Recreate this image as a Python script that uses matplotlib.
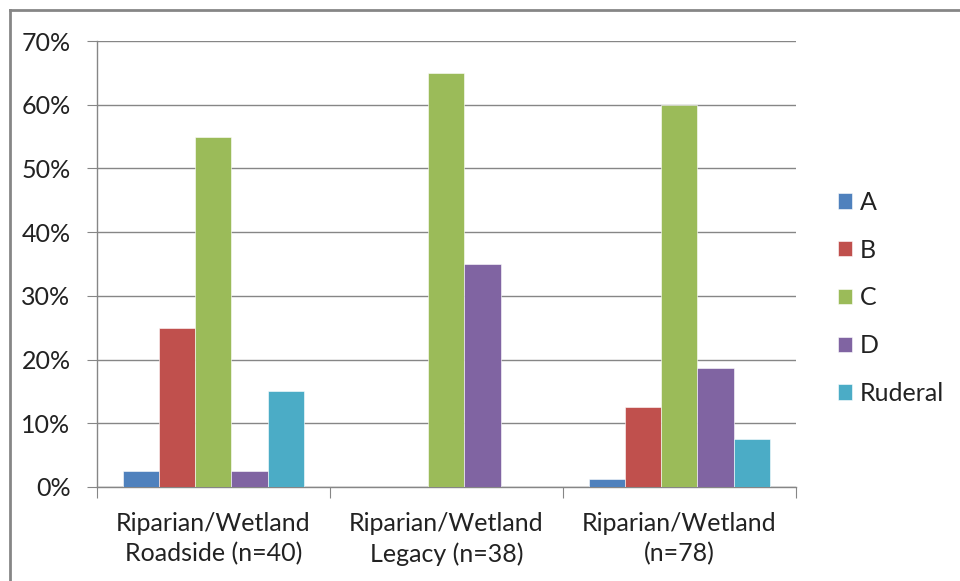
import numpy as np
import matplotlib.pyplot as plt
from matplotlib.lines import Line2D
from matplotlib.ticker import FuncFormatter

plt.rcParams['font.family'] = ['Lato', 'DejaVu Sans']

# data
groups = ['Riparian/Wetland\nRoadside (n=40)',
          'Riparian/Wetland\nLegacy (n=38)',
          'Riparian/Wetland\n(n=78)']
series = ['A', 'B', 'C', 'D', 'Ruderal']
values = {
    'A':       [2.5, 0.0, 1.25],
    'B':       [25.0, 0.0, 12.5],
    'C':       [55.0, 65.0, 60.0],
    'D':       [2.5, 35.0, 18.75],
    'Ruderal': [15.0, 0.0, 7.5],
}
colors = ['#4F81BD', '#C0504D', '#9BBB59', '#8064A2', '#4BACC6']

fig = plt.figure(figsize=(9.6, 5.81), dpi=100)
ax = fig.add_axes([0.101, 0.1618, 0.728, 0.7676])

x = np.arange(len(groups))
w = 0.155
for i, s in enumerate(series):
    ax.bar(x + (i - 2) * w, values[s], w, color=colors[i], label=s,
           edgecolor='white', linewidth=0.4, zorder=3)

ax.set_xlim(-0.5, 2.5)
ax.set_ylim(0, 70)
ax.set_yticks(np.arange(0, 71, 10))
ax.yaxis.set_major_formatter(FuncFormatter(lambda v, p: f'{v:.0f}%'))
ax.grid(axis='y', color='#868686', linewidth=1.0, zorder=0)

# x ticks at group boundaries, labels at centres
ax.set_xticks([-0.5, 0.5, 1.5, 2.5])
ax.set_xticklabels([])
ax.set_xticks(x, minor=True)
ax.set_xticklabels(groups, minor=True, fontsize=18, color='#222222', linespacing=1.38)
ax.tick_params(axis='x', which='major', length=8, color='#868686', direction='out')
ax.tick_params(axis='x', which='minor', length=0, pad=18)
ax.tick_params(axis='y', length=7, color='#868686', labelsize=18,
               labelcolor='#222222', pad=12)

for side in ['top', 'right']:
    ax.spines[side].set_visible(False)
for side in ['left', 'bottom']:
    ax.spines[side].set_color('#868686')
    ax.spines[side].set_linewidth(1.0)

leg = ax.legend(loc='center left', bbox_to_anchor=(1.060, 0.424), frameon=False,
                fontsize=18, handlelength=0.56, handleheight=0.56,
                handletextpad=0.32, labelspacing=0.99, borderaxespad=0,
                borderpad=0)
for t in leg.get_texts():
    t.set_color('#222222')

# chart area border (top and left only visible)
fig.add_artist(Line2D([10 / 960, 10 / 960], [0, 1 - 10 / 581],
                      transform=fig.transFigure, color='#868686', lw=2))
fig.add_artist(Line2D([10 / 960, 1], [1 - 10 / 581, 1 - 10 / 581],
                      transform=fig.transFigure, color='#868686', lw=2))

fig.savefig('out.png', dpi=100)
